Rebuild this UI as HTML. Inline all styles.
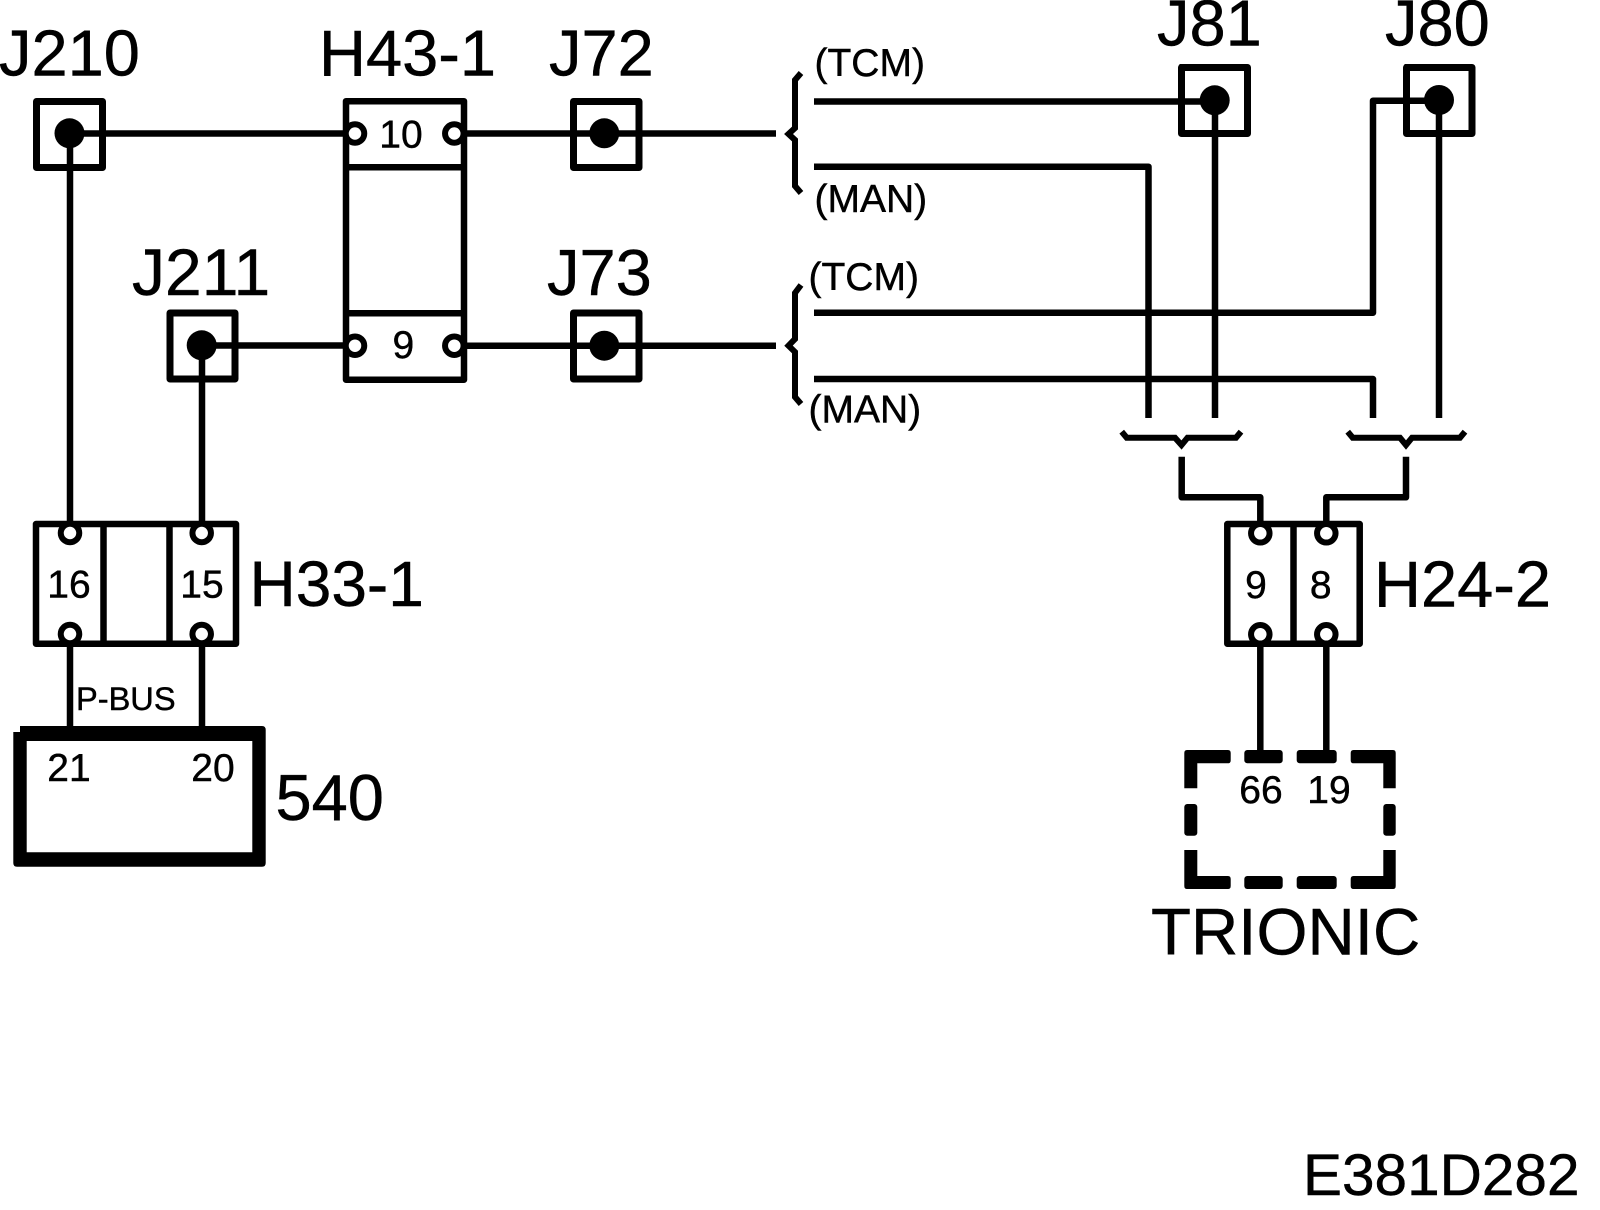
<!DOCTYPE html>
<html>
<head>
<meta charset="utf-8">
<style>
html,body{margin:0;padding:0;background:#fff;width:1600px;height:1210px;overflow:hidden}
svg{display:block}
text{font-family:"Liberation Sans",Arial,sans-serif;fill:#000;stroke:#000;stroke-width:.45px}
.b{font-size:65px}
.m{font-size:39px}
.n{font-size:39px}
</style>
</head>
<body>
<svg xmlns="http://www.w3.org/2000/svg" width="1600" height="1210" viewBox="0 0 1600 1210">
<rect width="1600" height="1210" fill="#fff"/>
<g fill="none" stroke="#000" stroke-width="6.5" stroke-linejoin="round" stroke-linecap="butt">
  <!-- wires -->
  <path d="M70 133.500H346M70 133.500V521"/>
  <path d="M202 345.500H346M202 345.500V521"/>
  <path d="M463 133.500H776"/>
  <path d="M463 345.700H776"/>
  <path d="M70 646V727M202 646V727"/>
  <path d="M814 101.500H1215V418"/>
  <path d="M814 166.700H1148.500V418"/>
  <path d="M814 312.700H1373V100.700H1439M1439 100.700V418"/>
  <path d="M814 379H1373V418"/>
  <path d="M1181.700 456.700V497.300H1260.300V521"/>
  <path d="M1406 456.700V497.300H1326.300V521"/>
  <path d="M1260.300 646V750M1326.300 646V750"/>
  <!-- J boxes -->
  <g stroke-width="7">
    <rect x="36.500" y="101.500" width="66" height="66"/>
    <rect x="170" y="313" width="65" height="66"/>
    <rect x="573.500" y="101.500" width="65.500" height="66"/>
    <rect x="573.500" y="313" width="65.500" height="66"/>
    <rect x="1181.500" y="67.500" width="66" height="66"/>
    <rect x="1406.500" y="67.500" width="65.500" height="66"/>
    <path d="M36 98.500V170.500M1181 64V136.500M1406 64V136.500M573 98.500V170M573 310V381" stroke-width="3"/>
  </g>
  <!-- H43-1 -->
  <rect x="346" y="101.200" width="118" height="278.500" fill="#fff"/>
  <path d="M346 167.300H464M346 313.300H464"/>
  <!-- H33-1 -->
  <rect x="36" y="524" width="200" height="119.700" fill="#fff"/>
  <path d="M103.500 524V643.700M169.500 524V643.700"/>
  <!-- H24-2 -->
  <rect x="1227.300" y="524" width="132.400" height="119.700" fill="#fff"/>
  <path d="M1293.500 524V643.700"/>
  <!-- Braces -->
  <g stroke-width="6" stroke-linejoin="miter">
    <path d="M801 73L795 80V128L788.500 134L795 140V186L801 193"/>
    <path d="M801 285L795 293V339L788.500 345.700L795 352V397L801 404"/>
    <path d="M1121.700 431.700L1126.700 437.700H1175L1181.500 445L1187.500 437.700H1236L1241 431.700"/>
    <path d="M1347.700 431.700L1352.700 437.700H1400L1406 445L1412 437.700H1460L1465 431.700"/>
  </g>
  <!-- hollow terminals -->
  <g fill="#fff" stroke-width="6">
    <circle cx="355" cy="133.500" r="9.250"/>
    <circle cx="454.300" cy="133.500" r="9.250"/>
    <circle cx="355" cy="345.700" r="9.250"/>
    <circle cx="454.300" cy="345.700" r="9.250"/>
    <circle cx="70" cy="533" r="9.250"/>
    <circle cx="201.700" cy="533" r="9.250"/>
    <circle cx="70" cy="634" r="9.250"/>
    <circle cx="201.700" cy="634" r="9.250"/>
    <circle cx="1260.300" cy="533.300" r="9.250"/>
    <circle cx="1326.300" cy="533.300" r="9.250"/>
    <circle cx="1260.300" cy="634.300" r="9.250"/>
    <circle cx="1326.300" cy="634.300" r="9.250"/>
  </g>
</g>
<!-- solid terminals -->
<g fill="#000">
  <circle cx="69.500" cy="133.300" r="15"/>
  <circle cx="201.700" cy="345.300" r="15"/>
  <circle cx="604.300" cy="133.300" r="15"/>
  <circle cx="604.300" cy="345.700" r="15"/>
  <circle cx="1214.700" cy="100.300" r="15"/>
  <circle cx="1439" cy="100" r="15"/>
  <!-- 540 module -->
  <path fill-rule="evenodd" d="M20 726H262Q265.700 726 265.700 730V863Q265.700 866.700 262 866.700H17Q13.300 866.700 13.300 863V732H20ZM26.700 741V852.300H252.300V741Z"/>
  <!-- Trionic dashed outline -->
  <path d="M1187 750H1228Q1230.700 750 1230.700 753V760.300Q1230.700 763.300 1228 763.300H1197.300V788.300H1184.300V753Q1184.300 750 1187 750Z"/>
  <rect x="1244.300" y="750" width="38.400" height="13.300" rx="3"/>
  <rect x="1296.700" y="750" width="40" height="13.300" rx="3"/>
  <path d="M1353.500 750H1393Q1395.700 750 1395.700 753V788.300H1383.300V763.300H1353.500Q1350.700 763.300 1350.700 760.300V753Q1350.700 750 1353.500 750Z"/>
  <rect x="1184.300" y="804" width="13" height="31.700" rx="3"/>
  <rect x="1383.300" y="804" width="12.400" height="31.700" rx="3"/>
  <path d="M1184.300 850H1197.300V876H1228Q1230.700 876 1230.700 879V886Q1230.700 889 1228 889H1187Q1184.300 889 1184.300 886Z"/>
  <rect x="1244.300" y="876" width="38.400" height="13" rx="3"/>
  <rect x="1296.700" y="876" width="40" height="13" rx="3"/>
  <path d="M1383.300 850H1395.700V886Q1395.700 889 1393 889H1353.500Q1350.700 889 1350.700 886V879Q1350.700 876 1353.500 876H1383.300Z"/>
</g>
<!-- Large labels -->
<text class="b" x="-1" y="75.500">J210</text>
<text class="b" x="319" y="75.500">H43-1</text>
<text class="b" x="549" y="75.500">J72</text>
<text class="b" x="132" y="295" style="font-size:66px">J211</text>
<text class="b" x="547" y="295">J73</text>
<text class="b" x="1157" y="45.500">J81</text>
<text class="b" x="1385" y="45.500">J80</text>
<text class="b" x="249.500" y="606" style="font-size:64px">H33-1</text>
<text class="b" x="1374" y="606.500">H24-2</text>
<text class="b" x="275.500" y="820">540</text>
<text class="b" x="1151" y="954.500" style="font-size:65.500px">TRIONIC</text>
<text x="1303" y="1195" style="font-size:58.500px">E381D282</text>
<!-- Medium labels -->
<text class="m" x="814.500" y="76">(TCM)</text>
<text class="m" x="814.500" y="212">(MAN)</text>
<text class="m" x="808.500" y="290">(TCM)</text>
<text class="m" x="808.500" y="422.500">(MAN)</text>
<!-- Pin numbers -->
<g text-anchor="middle">
  <text class="n" x="401" y="147.500">10</text>
  <text class="n" x="403.300" y="358">9</text>
  <text class="n" x="69" y="597.700">16</text>
  <text class="n" x="202" y="597.700">15</text>
  <text class="n" x="1256" y="598">9</text>
  <text class="n" x="1320.700" y="598">8</text>
  <text class="n" x="69" y="781">21</text>
  <text class="n" x="213" y="781">20</text>
  <text class="n" x="1261" y="803">66</text>
  <text class="n" x="1329" y="803">19</text>
</g>
<text x="76" y="710" style="font-size:32.600px">P-BUS</text>
</svg>
</body>
</html>
